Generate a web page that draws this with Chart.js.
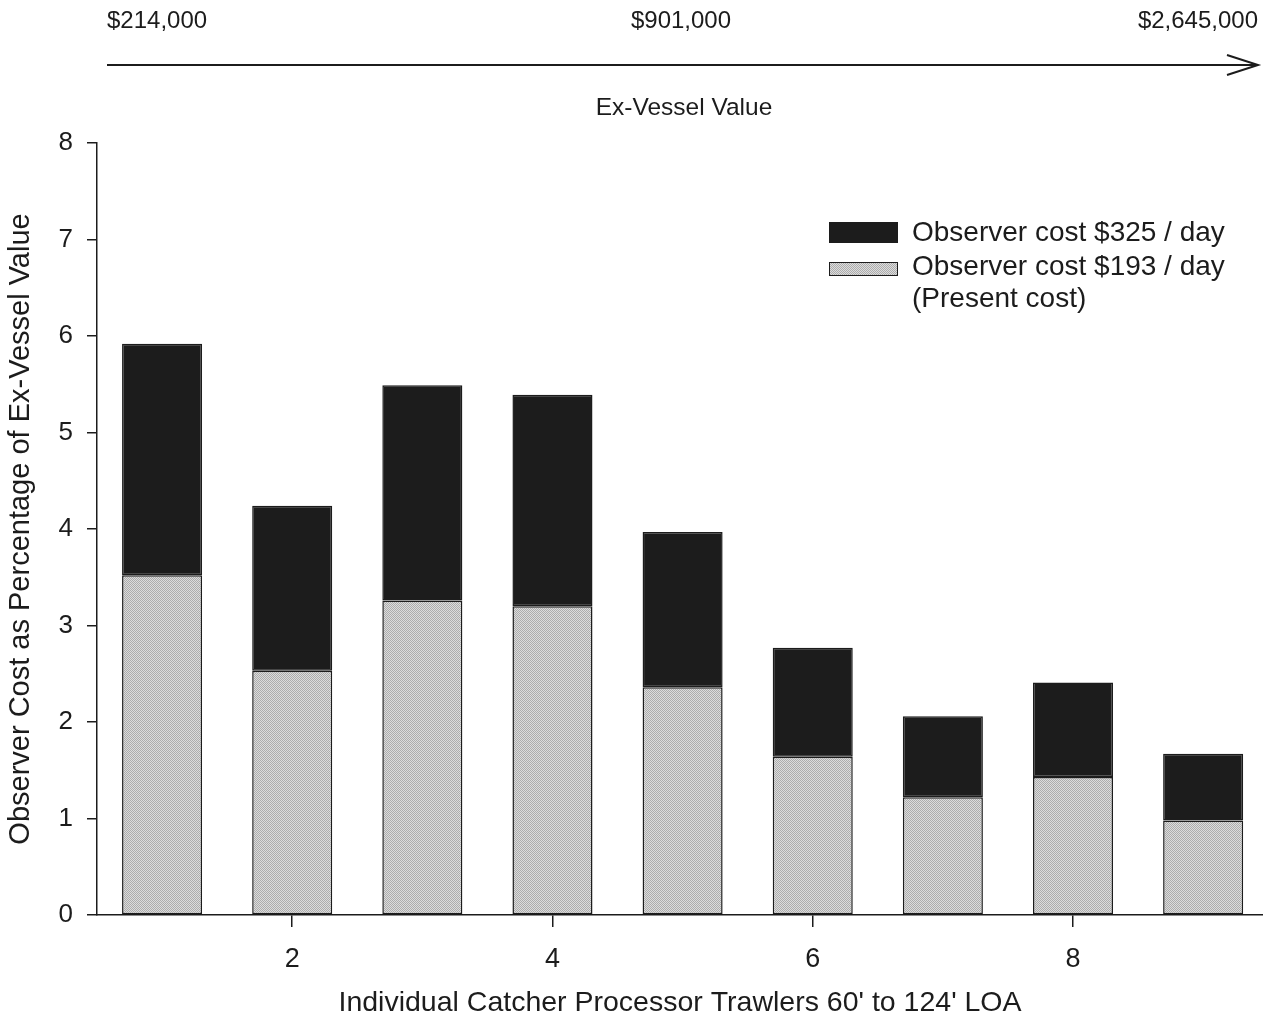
<!DOCTYPE html>
<html>
<head>
<meta charset="utf-8">
<script src="https://cdn.jsdelivr.net/npm/chart.js@4.4.1/dist/chart.umd.min.js"></script>
<style>
    body { margin: 0; background: #fff; }
    #wrap { width: 1263px; height: 1025px; }
</style>
</head>
<body>
<div id="wrap"><canvas id="chart" width="1263" height="1025"></canvas></div>
<script>
// vessel index on the x axis
const vessels = [1, 2, 3, 4, 5, 6, 7, 8, 9];
// observer cost at $193/day (present cost), % of ex-vessel value
const presentCost = [3.52, 2.53, 3.26, 3.20, 2.36, 1.64, 1.22, 1.43, 0.98];
// observer cost at $325/day, % of ex-vessel value (full bar height)
const higherCost = [5.92, 4.24, 5.49, 5.39, 3.97, 2.77, 2.06, 2.41, 1.67];
const xTicks = [2, 4, 6, 8];
const valueLabels = ['$214,000', '$901,000', '$2,645,000'];
const legendLabels = ['Observer cost $325 / day', 'Observer cost $193 / day', '(Present cost)'];

const FONT = "'Liberation Sans', Arial, Helvetica, sans-serif";
const INK = '#1c1c1c';

function makeStipple() {
    const c = document.createElement('canvas');
    c.width = 2;
    c.height = 2;
    const g = c.getContext('2d');
    g.fillStyle = '#dcdcdc';
    g.fillRect(0, 0, 2, 2);
    g.fillStyle = '#acacac';
    g.fillRect(0, 0, 1, 1);
    g.fillRect(1, 1, 1, 1);
    return g.createPattern(c, 'repeat');
}

const ctx = document.getElementById('chart').getContext('2d');
const stipple = makeStipple();

const presentPoints = vessels.map((v, i) => ({ x: v, y: presentCost[i] }));
const extraPoints = vessels.map((v, i) => ({ x: v, y: +(higherCost[i] - presentCost[i]).toFixed(2) }));

// header arrow + custom legend
const decorations = {
    id: 'decorations',
    afterDraw(chart) {
        const c = chart.ctx;
        c.save();
        c.fillStyle = INK;
        c.strokeStyle = INK;

        c.font = `24px ${FONT}`;
        c.textBaseline = 'middle';
        c.textAlign = 'left';
        c.fillText(valueLabels[0], 107, 21);
        c.textAlign = 'center';
        c.fillText(valueLabels[1], 681, 21);
        c.textAlign = 'right';
        c.fillText(valueLabels[2], 1258, 21);

        c.lineWidth = 2;
        c.beginPath();
        c.moveTo(107, 65);
        c.lineTo(1258, 65);
        c.moveTo(1227, 55);
        c.lineTo(1258, 65);
        c.lineTo(1227, 75);
        c.stroke();

        c.font = `24.5px ${FONT}`;
        c.textAlign = 'center';
        c.fillText('Ex-Vessel Value', 684, 108);

        // legend
        c.lineWidth = 1;
        c.fillStyle = INK;
        c.fillRect(829, 222, 69, 21);
        c.fillStyle = stipple;
        c.fillRect(829, 262, 69, 14);
        c.strokeRect(829.5, 262.5, 68, 13);

        c.fillStyle = INK;
        c.font = `28px ${FONT}`;
        c.textAlign = 'left';
        c.fillText(legendLabels[0], 912, 233);
        c.fillText(legendLabels[1], 912, 267);
        c.fillText(legendLabels[2], 912, 299);
        c.restore();
    }
};

new Chart(ctx, {
    type: 'bar',
    data: {
        datasets: [
            {
                label: 'Observer cost $193 / day (Present cost)',
                data: presentPoints,
                backgroundColor: stipple,
                borderColor: INK,
                borderWidth: 1.5,
                borderSkipped: false,
                barPercentage: 0.615,
                categoryPercentage: 1
            },
            {
                label: 'Observer cost $325 / day',
                data: extraPoints,
                backgroundColor: INK,
                borderColor: INK,
                borderWidth: 1.5,
                borderSkipped: false,
                barPercentage: 0.615,
                categoryPercentage: 1
            }
        ]
    },
    options: {
        responsive: false,
        animation: false,
        devicePixelRatio: 1,
        layout: { padding: { top: 143, right: 0, left: 0, bottom: 0 } },
        plugins: {
            legend: { display: false },
            tooltip: { enabled: false }
        },
        scales: {
            x: {
                type: 'linear',
                stacked: true,
                offset: false,
                min: 0.5,
                max: 9.46,
                afterBuildTicks: (scale) => {
                    scale.ticks = xTicks.map(v => ({ value: v }));
                },
                afterFit: (scale) => { scale.height = 110; },
                grid: { display: true, offset: false, drawOnChartArea: false, drawTicks: true, tickLength: 12, color: INK, lineWidth: 1.5 },
                border: { display: true, color: INK, width: 1.5 },
                ticks: { font: { family: FONT, size: 27 }, color: INK, padding: 16, maxRotation: 0 },
                title: {
                    display: true,
                    text: "Individual Catcher Processor Trawlers 60' to 124' LOA",
                    font: { family: FONT, size: 28.5 },
                    color: INK,
                    padding: { top: 0, bottom: 5 }
                }
            },
            y: {
                stacked: true,
                min: 0,
                max: 8,
                afterFit: (scale) => { scale.width = 97; },
                grid: { drawOnChartArea: false, drawTicks: true, tickLength: 10, color: INK, lineWidth: 1.5 },
                border: { display: true, color: INK, width: 1.5 },
                ticks: { stepSize: 1, font: { family: FONT, size: 26 }, color: INK, padding: 14 },
                title: {
                    display: true,
                    text: 'Observer Cost as Percentage of Ex-Vessel Value',
                    font: { family: FONT, size: 29 },
                    color: INK,
                    padding: { top: 4, bottom: 0 }
                }
            }
        }
    },
    plugins: [decorations]
});
</script>
</body>
</html>
